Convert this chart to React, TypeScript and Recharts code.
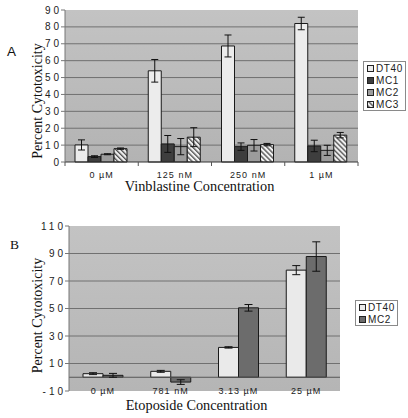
import React from 'react';
import { BarChart, Bar, XAxis, YAxis, CartesianGrid, ErrorBar, ReferenceLine, Label } from 'recharts';

// ---------- Panel A: Vinblastine ----------
const vinCategories = ['0 µM', '125 nM', '250 nM', '1 µM'];
const seriesA = ['DT40', 'MC1', 'MC2', 'MC3'];
const dt40A = [10.1, 54, 68.7, 82];
const dt40AErr = [3, 6.7, 6.5, 3.7];
const mc1A = [3.2, 10.7, 9.1, 9.5];
const mc1AErr = [0.5, 5, 2.2, 3.4];
const mc2A = [4.6, 9.1, 9.9, 6.9];
const mc2AErr = [0.3, 4.8, 3.4, 3];
const mc3A = [7.9, 14.7, 10.3, 15.9];
const mc3AErr = [0.4, 5.6, 0.7, 1.6];
const yTicksA = [0, 10, 20, 30, 40, 50, 60, 70, 80, 90];
const gridA = [10, 20, 30, 40, 50, 60, 70, 80];

// ---------- Panel B: Etoposide ----------
const etoCategories = ['0 µM', '781 nM', '3.13 µM', '25 µM'];
const seriesB = ['DT40', 'MC2'];
const dt40B = [2.6, 4.3, 21.7, 77.9];
const dt40BErr = [0.7, 0.7, 0.5, 3.3];
const mc2B = [1.4, -3.5, 50.5, 87.8];
const mc2BErr = [1.4, 1.7, 2.4, 10.7];
const yTicksB = [-10, 10, 30, 50, 70, 90, 110];
const gridB = [10, 30, 50, 70, 90];

const dataA = vinCategories.map((cat, i) => ({
  cat,
  DT40: dt40A[i], DT40e: dt40AErr[i],
  MC1: mc1A[i], MC1e: mc1AErr[i],
  MC2: mc2A[i], MC2e: mc2AErr[i],
  MC3: mc3A[i], MC3e: mc3AErr[i],
}));

const dataB = etoCategories.map((cat, i) => ({
  cat,
  DT40: dt40B[i], DT40e: dt40BErr[i],
  MC2: mc2B[i], MC2e: mc2BErr[i],
}));

const fillsA: Record<string, string> = {
  DT40: '#ececec',
  MC1: '#3e3e3e',
  MC2: '#9c9c9c',
  MC3: 'url(#hatchA)',
};
const fillsB: Record<string, string> = {
  DT40: '#eaeaea',
  MC2: '#6c6c6c',
};

const SANS = 'Liberation Sans, Arial, sans-serif';
const SERIF = 'Liberation Serif, Times New Roman, serif';

const YTick = (props: any) => {
  const { x, y, payload } = props;
  return (
    <text x={x + 3} y={y} dy={3.5} textAnchor="end" fontSize={10} letterSpacing={3}
      style={{ fontFamily: SANS }} fill="#222">
      {payload.value}
    </text>
  );
};

const XTickA = (props: any) => {
  const { x, y, payload, index, width, visibleTicksCount } = props;
  const n = visibleTicksCount || vinCategories.length;
  const band = (width || 293) / n;
  const axisY = y - 13;
  return (
    <g>
      <line x1={x - band / 2} x2={x - band / 2} y1={axisY} y2={axisY + 4} stroke="#555" />
      {index === n - 1 && (
        <line x1={x + band / 2} x2={x + band / 2} y1={axisY} y2={axisY + 4} stroke="#555" />
      )}
      <text x={x} y={y} dy={2.5} textAnchor="middle" fontSize={9} letterSpacing={1}
        fill="#222" style={{ whiteSpace: 'pre', fontFamily: SANS }}>
        {payload.value}
      </text>
    </g>
  );
};

const XTickB = (props: any) => {
  const { x, y, payload } = props;
  return (
    <text x={x} y={y} dy={3} textAnchor="middle" fontSize={9} letterSpacing={1}
      fill="#222" style={{ whiteSpace: 'pre', fontFamily: SANS }}>
      {payload.value}
    </text>
  );
};

const LegendBox = ({ names, fills, left, top }: { names: string[]; fills: Record<string, string>; left: number; top: number }) => (
  <div style={{
    position: 'absolute', left, top, border: '1px solid #8a8a8a', background: '#fff',
    padding: '0px 2px 0px 3px', fontFamily: SANS, fontSize: 10, color: '#222', letterSpacing: 0.6,
  }}>
    {names.map((n) => (
      <div key={n} style={{ display: 'flex', alignItems: 'center', height: 12 }}>
        <svg width={7} height={7} style={{ marginRight: 2 }}>
          <rect x={0.5} y={0.5} width={6} height={6} fill={fills[n]} stroke="#222" strokeWidth={1} />
        </svg>
        <span>{n}</span>
      </div>
    ))}
  </div>
);

const YTitle = (dx: number, dy: number, letter: string, letterFont: string, lx: number, ly: number) => (props: any) => {
  const vb = props.viewBox || { x: 0, y: 0, width: 0, height: 0 };
  const cx = vb.x + dx;
  const cy = vb.y + vb.height / 2 + dy;
  return (
    <g>
      <text x={cx} y={cy} transform={`rotate(-90, ${cx}, ${cy})`} textAnchor="middle"
        fontSize={14} style={{ fontFamily: SERIF }} fill="#111">Percent Cytotoxicity</text>
      <text x={lx} y={ly} fontSize={13.5} style={{ fontFamily: letterFont }} fill="#111">{letter}</text>
    </g>
  );
};

const XTitle = (text: string, dx: number, yPos: number) => (props: any) => {
  const vb = props.viewBox || { x: 0, y: 0, width: 0, height: 0 };
  return (
    <text x={vb.x + vb.width / 2 + dx} y={yPos} textAnchor="middle" fontSize={14.3}
      style={{ fontFamily: SERIF }} fill="#111">{text}</text>
  );
};

export default function App() {
  return (
    <div style={{ position: 'absolute', left: 0, top: 0, width: 408, height: 418, background: '#fff', overflow: 'hidden' }}>
      <svg width={0} height={0} style={{ position: 'absolute' }}>
        <defs>
          <pattern id="hatchA" patternUnits="userSpaceOnUse" width={3.5} height={3.5} patternTransform="rotate(-45)">
            <rect width={3.5} height={3.5} fill="#f2f2f2" />
            <line x1={0.7} y1={0} x2={0.7} y2={3.5} stroke="#4a4a4a" strokeWidth={1.3} />
          </pattern>
          <linearGradient id="bgA" x1="0" y1="0" x2="0" y2="1">
            <stop offset="0%" stopColor="#c3c3c3" />
            <stop offset="100%" stopColor="#b3b3b3" />
          </linearGradient>
          <linearGradient id="bgB" x1="0" y1="0" x2="0" y2="1">
            <stop offset="0%" stopColor="#c3c3c3" />
            <stop offset="100%" stopColor="#b5b5b5" />
          </linearGradient>
        </defs>
      </svg>

      {/* Panel A */}
      <div style={{ position: 'absolute', left: 0, top: 0 }}>
        <BarChart width={408} height={200} data={dataA}
          margin={{ top: 10, right: 50, bottom: 8, left: 0 }}
          barCategoryGap={10} barGap={0}>
          <CartesianGrid vertical={false} horizontalValues={gridA} fill="url(#bgA)" fillOpacity={1}
            stroke="#707070" strokeWidth={1} />
          <XAxis dataKey="cat" height={30} tick={<XTickA />} tickLine={false} tickSize={5} tickMargin={8}
            axisLine={{ stroke: '#333' }} interval={0}>
            <Label content={XTitle('Vinblastine Concentration', -12, 191)} />
          </XAxis>
          <YAxis width={65} domain={[0, 90]} ticks={yTicksA} interval={0} tick={<YTick />}
            tickSize={4} tickMargin={2} axisLine={{ stroke: '#777' }} tickLine={{ stroke: '#777' }}>
            <Label content={YTitle(42, 15, 'A', SANS, 7, 55.5)} />
          </YAxis>
          {seriesA.map((s) => (
            <Bar key={s} dataKey={s} fill={fillsA[s]} stroke="#1a1a1a" strokeWidth={1} isAnimationActive={false}>
              <ErrorBar dataKey={`${s}e`} width={3.5} stroke="#111" strokeWidth={1} />
            </Bar>
          ))}
        </BarChart>
      </div>
      <LegendBox names={seriesA} fills={fillsA} left={363} top={61} />

      {/* Panel B */}
      <div style={{ position: 'absolute', left: 0, top: 210 }}>
        <BarChart width={408} height={208} data={dataB}
          margin={{ top: 16, right: 68, bottom: 7, left: 0 }}
          barCategoryGap={14} barGap={0}>
          <CartesianGrid vertical={false} horizontalValues={gridB} fill="url(#bgB)" fillOpacity={1}
            stroke="#707070" strokeWidth={1} />
          <XAxis dataKey="cat" height={20} tick={<XTickB />} tickLine={false} tickSize={0} tickMargin={0}
            axisLine={false} interval={0}>
            <Label content={XTitle('Etoposide Concentration', -8, 200)} />
          </XAxis>
          <YAxis width={69} domain={[-10, 110]} ticks={yTicksB} interval={0} tick={<YTick />}
            tickSize={4} tickMargin={2} axisLine={{ stroke: '#777' }} tickLine={{ stroke: '#777' }}>
            <Label content={YTitle(42, 7, 'B', SERIF, 10, 38.5)} />
          </YAxis>
          <ReferenceLine y={0} stroke="#555" strokeWidth={1} />
          {seriesB.map((s) => (
            <Bar key={s} dataKey={s} fill={fillsB[s]} stroke="#1a1a1a" strokeWidth={1} isAnimationActive={false}>
              <ErrorBar dataKey={`${s}e`} width={4} stroke="#111" strokeWidth={1} />
            </Bar>
          ))}
        </BarChart>
      </div>
      <LegendBox names={seriesB} fills={fillsB} left={355} top={300} />
    </div>
  );
}
